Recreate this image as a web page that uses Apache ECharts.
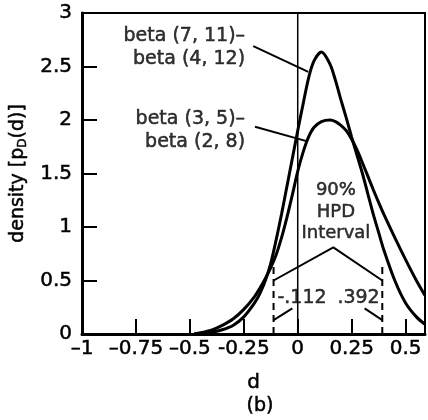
<!DOCTYPE html>
<html>
<head>
<meta charset="utf-8">
<script src="https://cdn.jsdelivr.net/npm/echarts@6/dist/echarts.min.js"></script>
<style>
html,body{margin:0;padding:0;background:#fff;}
#chart{width:428px;height:420px;}
</style>
</head>
<body>
<div id="chart"></div>
<script>
// ---- data ----
const dValues      = [-0.48,-0.45,-0.4,-0.35,-0.3,-0.25,-0.2,-0.175,-0.15,-0.125,-0.1,-0.075,-0.05,-0.025,0,0.025,0.05,0.075,0.11,0.15,0.175,0.2,0.225,0.25,0.275,0.3,0.325,0.35,0.375,0.4,0.45,0.5,0.55,0.59];
// beta(7,11) - beta(4,12)
const tallDensity  = [0,0.004,0.015,0.04,0.08,0.16,0.29,0.38,0.5,0.66,0.88,1.12,1.38,1.64,1.9,2.15,2.39,2.55,2.635,2.52,2.37,2.19,2.02,1.84,1.67,1.5,1.31,1.12,0.95,0.78,0.5,0.29,0.16,0.09];
// beta(3,5) - beta(2,8)
const broadDensity = [0,0.012,0.035,0.08,0.14,0.23,0.35,0.43,0.52,0.62,0.74,0.9,1.09,1.3,1.52,1.7,1.84,1.93,1.985,2.0,1.985,1.95,1.9,1.82,1.72,1.6,1.475,1.35,1.23,1.115,0.9,0.695,0.5,0.36];

const xTicks      = [-1,-0.75,-0.5,-0.25,0,0.25,0.5];
const xTickLabels = ['\u20131','\u20130.75','\u20130.5','-0.25','0','0.25','0.5'];
const yTicks      = [0,0.5,1,1.5,2,2.5,3];
const yTickLabels = ['0','0.5','1','1.5','2','2.5','3'];

const hpdBounds   = [-0.112, 0.392];
const hpdLabels   = ['-.112', '.392'];
const curveLabels = ['beta (7, 11)\u2013\nbeta (4, 12)', 'beta (3, 5)\u2013\nbeta (2, 8)'];
const hpdText     = '90%\nHPD\nInterval';

// ---- build chart ----
const FONT = 'DejaVu Sans';
const INK = {color:'#000', textBorderColor:'#000', textBorderWidth:0.5};
function pairs(xs, ys){ return xs.map((x,i)=>[x, ys[i]]); }
function lookup(ticks, labels, v){
  for (let i=0;i<ticks.length;i++){ if (Math.abs(ticks[i]-v) < 1e-6) return labels[i]; }
  return '';
}
const blackLine = (w, type) => ({color:'#000', width:w, type: type || 'solid'});
const plainLine = (pts, w, type) => ({type:'line', data:pts, showSymbol:false, lineStyle:blackLine(w,type), silent:true});

const chart = echarts.init(document.getElementById('chart'), null, {renderer:'canvas'});
const option = {
  animation:false,
  backgroundColor:'#fff',
  textStyle:{fontFamily:FONT, color:'#000'},
  title:{
    text:'(b)', left:255, top:392, textAlign:'center',
    textStyle:Object.assign({fontFamily:FONT, fontSize:19, fontWeight:'normal'}, INK)
  },
  grid:{left:82, right:3, top:13, bottom:86, show:true, borderColor:'#000', borderWidth:2},
  xAxis:{
    type:'value', min:-1, max:0.59, interval:0.25,
    axisLine:{onZero:false, lineStyle:blackLine(3)},
    axisTick:{inside:true, length:15, lineStyle:blackLine(2)},
    axisLabel:Object.assign({showMaxLabel:false, fontFamily:FONT, fontSize:20, margin:5,
      formatter:v=>lookup(xTicks, xTickLabels, v)}, INK),
    splitLine:{show:false},
    name:'d', nameLocation:'middle', nameGap:39,
    nameTextStyle:Object.assign({fontFamily:FONT, fontSize:20}, INK)
  },
  yAxis:{
    type:'value', min:0, max:3, interval:0.5,
    axisLine:{onZero:false, lineStyle:blackLine(3)},
    axisTick:{inside:true, length:15, lineStyle:blackLine(2)},
    axisLabel:Object.assign({fontFamily:FONT, fontSize:20, margin:10,
      formatter:v=>lookup(yTicks, yTickLabels, v)}, INK),
    splitLine:{show:false},
    name:'density [p{s|D}(d)]', nameLocation:'middle', nameGap:50, nameRotate:90,
    nameTextStyle:Object.assign({fontFamily:FONT, fontSize:19,
      rich:{s:Object.assign({fontFamily:FONT, fontSize:12, padding:[9,0,0,0]}, INK)}}, INK)
  },
  series:[
    {type:'line', data:pairs(dValues, tallDensity), smooth:0.3, showSymbol:false, lineStyle:blackLine(3), silent:true, z:5},
    {type:'line', data:pairs(dValues, broadDensity), smooth:0.3, showSymbol:false, lineStyle:blackLine(3), silent:true, z:5},
    // vertical line at d = 0
    plainLine([[0,0],[0,3]], 1.5),
    // leader lines to curve labels
    plainLine([[-0.206,2.69],[0.049,2.45]], 2),
    plainLine([[-0.198,1.937],[0.045,1.8]], 2),
    // HPD bracket
    plainLine([[hpdBounds[0],0.5],[0.165,0.81],[hpdBounds[1],0.5]], 2),
    // dashed HPD bounds
    plainLine([[hpdBounds[0],0],[hpdBounds[0],0.63]], 2, [7,5]),
    plainLine([[hpdBounds[1],0],[hpdBounds[1],0.63]], 2, [7,5]),
    // small leaders from bound numbers
    plainLine([[hpdBounds[0],0.13],[-0.025,0.24]], 2),
    plainLine([[0.31,0.24],[hpdBounds[1],0.13]], 2),
    // text annotations
    {type:'scatter', symbolSize:0, silent:true, z:10,
     label:Object.assign({show:true, position:[0,0], fontFamily:FONT, fontSize:18, verticalAlign:'middle'}, INK),
     data:[
       {value:[-0.244,2.678], label:{formatter:curveLabels[0], align:'right', lineHeight:23, fontSize:19}},
       {value:[-0.244,1.897], label:{formatter:curveLabels[1], align:'right', lineHeight:23, fontSize:19}},
       {value:[0.177,1.14],   label:{formatter:hpdText, align:'center', lineHeight:21.5}},
       {value:[0.02,0.336],   label:{formatter:hpdLabels[0], align:'center', fontSize:19}},
       {value:[0.282,0.336],  label:{formatter:hpdLabels[1], align:'center', fontSize:19}}
     ]}
  ]
};
chart.setOption(option);
</script>
</body>
</html>
